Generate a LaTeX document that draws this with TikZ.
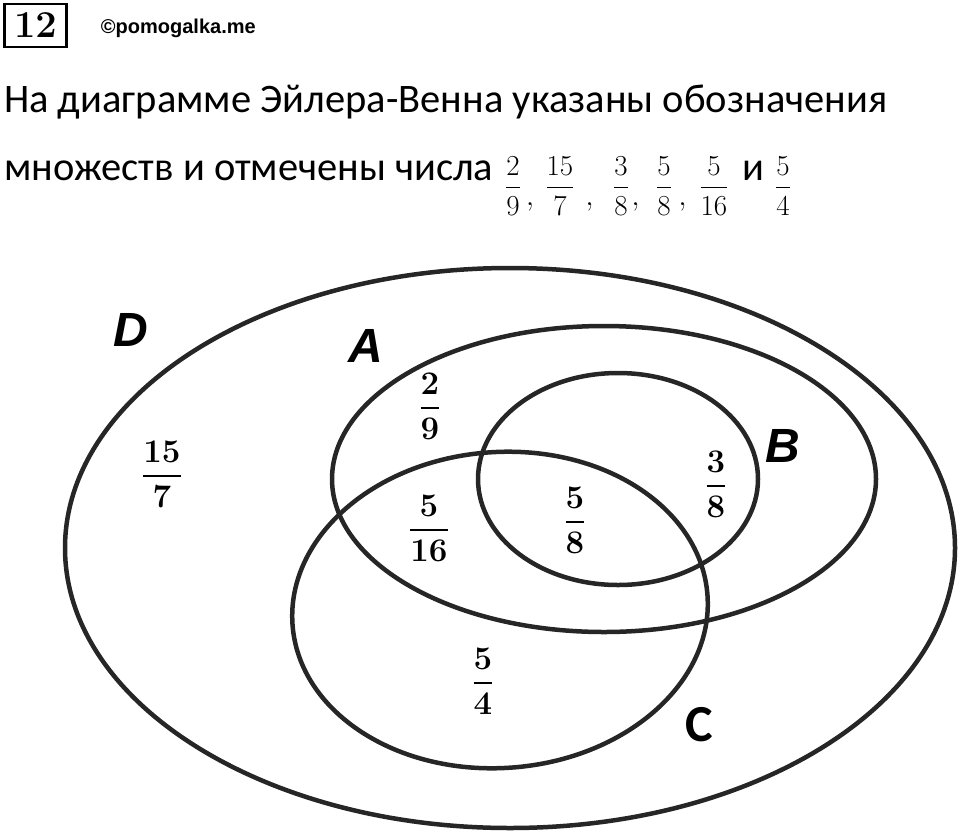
\RequirePackage{fix-cm}
\documentclass[tikz,border=0pt]{standalone}
\usepackage{amsmath}
\usepackage[no-math]{fontspec}
\setmainfont{Carlito}
\newfontfamily\arialfont{Liberation Sans}
\usetikzlibrary{positioning}
\tikzset{
venn/.style={
    draw=black!85,
    line width=4.5pt
},
setname/.style={
    inner sep=0pt,
    font=\arialfont\fontsize{48}{48}\selectfont\bfseries\itshape
},
member/.style={
    inner sep=0pt,
    font=\fontsize{33}{33}\selectfont
},
listed/.style={
    inner sep=0pt,
    font=\fontsize{29}{29}\selectfont
},
heading/.style={
    anchor=base west,
    inner sep=0pt,
    font=\fontsize{40.5}{40.5}\selectfont
}}
\newcommand{\setfr}[2]{$\genfrac{}{}{2.2pt}{0}{\mathbf{#1}}{\mathbf{#2}}$}

\begin{document}
\begin{tikzpicture}[x=1pt, y=-1pt]
    \useasboundingbox (0,0) rectangle (960,835);

    % heading
    \node[draw, line width=2.5pt, minimum width=62pt, minimum height=43pt, inner sep=0pt]
        (num) at (35.5,25.5) {\fontsize{38}{38}\selectfont$\mathbf{12}$};
    \node[right=33pt of num, yshift=-3pt, inner sep=0pt, font=\arialfont\fontsize{20}{20}\selectfont\bfseries]
        (site) {©pomogalka.me};
    \node[heading] (line1) at (4,112) {На диаграмме Эйлера-Венна указаны обозначения};
    \node[heading] (line2) at (4,180) {множеств и отмечены числа};

    % numbers listed in the text
    \node[listed] (list1) at (513,186) {$\dfrac{2}{9}$};
    \node[listed] (list2) at (560,186) {$\dfrac{15}{7}$};
    \node[listed] (list3) at (621,186) {$\dfrac{3}{8}$};
    \node[listed] (list4) at (664,186) {$\dfrac{5}{8}$};
    \node[listed] (list5) at (714,186) {$\dfrac{5}{16}$};
    \node[heading] (and)  at (742,180) {и};
    \node[listed] (list6) at (783,186) {$\dfrac{5}{4}$};
    \foreach \x [count=\i] in {530,589.5,635.5,682.5}
        \node[listed] (comma\i) at (\x,207) {$,$};

    % sets
    \draw[venn] (510,548) ellipse [x radius=445, y radius=280];
    \draw[venn] (604,479) ellipse [x radius=272, y radius=153];
    \draw[venn] (618,479) ellipse [x radius=140, y radius=106];
    \draw[venn] (500,610) ellipse [x radius=208, y radius=158, rotate=4];

    % set names
    \node[setname] (nameD) at (131,330) {D};
    \node[setname] (nameA) at (366,346) {A};
    \node[setname] (nameB) at (783,446) {B};
    \node[setname, font=\fontsize{52}{52}\selectfont\bfseries] (nameC) at (699,725) {C};

    % numbers in the regions
    \node[member] (onlyD) at (162,474) {\setfr{15}{7}};
    \node[member] (onlyA) at (430,406) {\setfr{2}{9}};
    \node[member] (inAC)  at (429,528) {\setfr{5}{16}};
    \node[member] (inBC)  at (575,520) {\setfr{5}{8}};
    \node[member] (onlyB) at (716,484) {\setfr{3}{8}};
    \node[member] (onlyC) at (483,681) {\setfr{5}{4}};

\end{tikzpicture}
\end{document}
